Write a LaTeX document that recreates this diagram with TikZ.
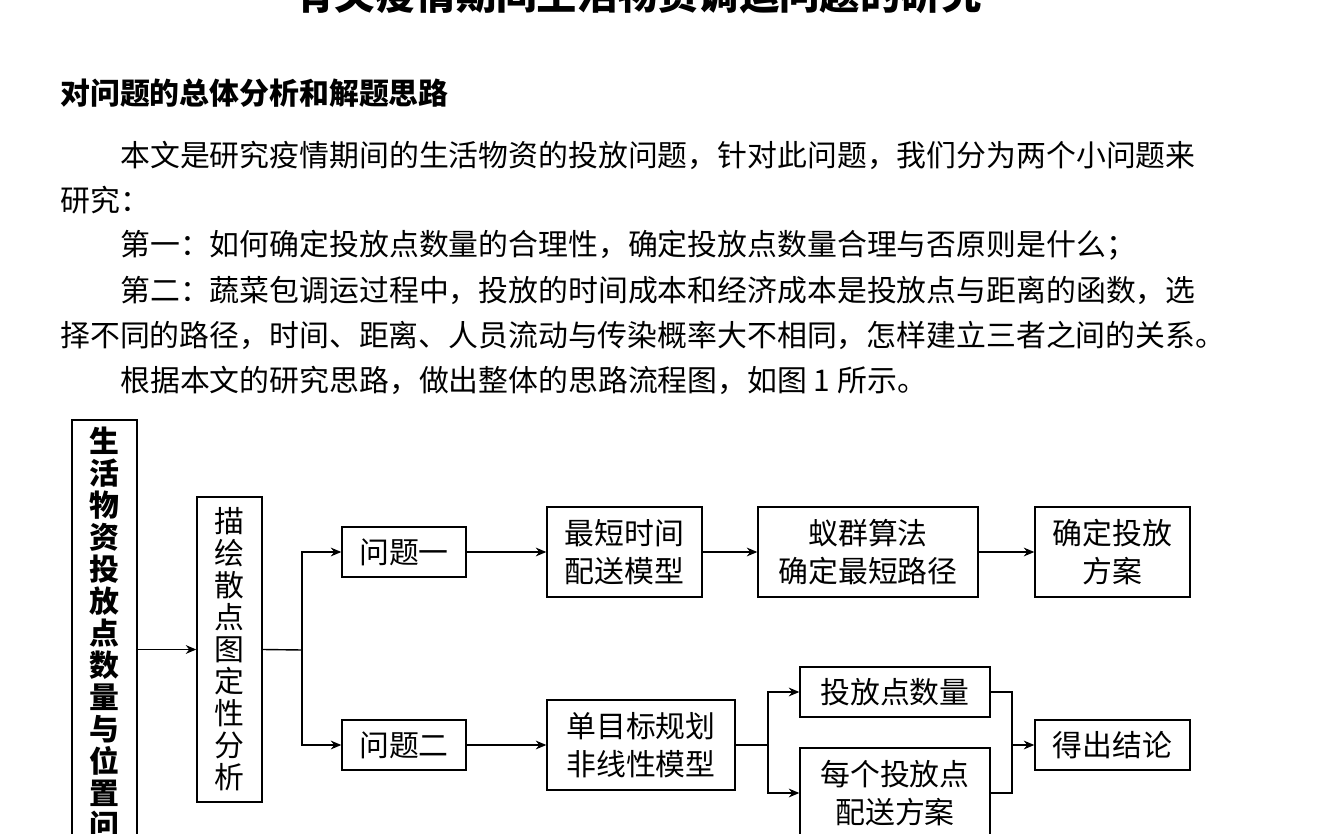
\documentclass[tikz,border=0pt]{standalone}
\usepackage{fontspec}
\setmainfont{Noto Sans CJK SC}
\usetikzlibrary{arrows.meta, positioning}
\tikzset{
	box/.style={draw, line width=0.8pt, inner sep=0pt, align=center, font=\fontsize{17}{21.5}\selectfont},
	arr/.style={line width=0.8pt, -{Stealth[length=6pt, width=5pt]}},
	con/.style={line width=0.8pt},
	txt/.style={anchor=west, inner sep=0pt, font=\fontsize{17}{20}\selectfont},
}
\begin{document}
\begin{tikzpicture}[x=0.02cm, y=-0.02cm]
	\useasboundingbox (0,0) rectangle (1335,834);
	\clip (0,0) rectangle (1335,834);

	% 标题与正文
	\node[inner sep=0pt, font=\fontsize{23}{26}\selectfont\bfseries] (title) at (638,-6) {有关疫情期间生活物资调运问题的研究};
	\node[txt, font=\fontsize{17}{20}\selectfont\bfseries] (head) at (60,93) {对问题的总体分析和解题思路};
	\node[txt] (l1) at (120,155) {本文是研究疫情期间的生活物资的投放问题，针对此问题，我们分为两个小问题来};
	\node[txt] (l2) at (60,200) {研究：};
	\node[txt] (l3) at (120,245) {第一：如何确定投放点数量的合理性，确定投放点数量合理与否原则是什么；};
	\node[txt] (l4) at (120,290) {第二：蔬菜包调运过程中，投放的时间成本和经济成本是投放点与距离的函数，选};
	\node[txt] (l5) at (60,335) {择不同的路径，时间、距离、人员流动与传染概率大不相同，怎样建立三者之间的关系。};
	\node[txt] (l6) at (120,380) {根据本文的研究思路，做出整体的思路流程图，如图 1 所示。};

	% 流程图
	\node[box, minimum width=1.3cm, minimum height=11.6cm] (goal) at (104.5,710) {};
	\node[inner sep=0pt, align=center, anchor=north, font=\fontsize{17}{18.2}\selectfont\bfseries] (goaltxt) at (104.5,427) {生\\活\\物\\资\\投\\放\\点\\数\\量\\与\\位\\置\\问\\题};
	\node[box, minimum width=1.3cm, minimum height=6.1cm, font=\fontsize{17}{18.2}\selectfont] (desc) at (229.5,649.5) {描\\绘\\散\\点\\图\\定\\性\\分\\析};
	\node[box, minimum width=2.48cm, minimum height=1cm] (q1) at (404,552) {问题一};
	\node[box, minimum width=2.48cm, minimum height=1cm] (q2) at (404,745) {问题二};
	\node[box, minimum width=3.1cm, minimum height=1.8cm] (tmod) at (624.5,552) {最短时间\\配送模型};
	\node[box, minimum width=4.4cm, minimum height=1.8cm] (ant) at (868,552) {蚁群算法\\确定最短路径};
	\node[box, minimum width=3.1cm, minimum height=1.8cm] (plan) at (1112.5,552) {确定投放\\方案};
	\node[box, minimum width=3.76cm, minimum height=1.8cm] (nlp) at (641,745) {单目标规划\\非线性模型};
	\node[box, minimum width=3.8cm, minimum height=1cm] (num) at (895,692) {投放点数量};
	\node[box, minimum width=3.8cm, minimum height=1.8cm] (each) at (895,793) {每个投放点\\配送方案};
	\node[box, minimum width=3.1cm, minimum height=1cm] (res) at (1112.5,745) {得出结论};

	\coordinate (fork) at (302,650);
	\coordinate (split) at (768,745);
	\coordinate (join) at (1012,745);

	\draw[arr] (goal.east |- desc.west) -- (desc.west);
	\draw[con] (desc.east) -- (fork);
	\draw[arr] (fork) |- (q1.west);
	\draw[arr] (fork) |- (q2.west);
	\draw[arr] (q1) -- (tmod);
	\draw[arr] (tmod) -- (ant);
	\draw[arr] (ant) -- (plan);
	\draw[arr] (q2) -- (nlp);
	\draw[con] (nlp.east) -- (split);
	\draw[arr] (split) |- (num.west);
	\draw[arr] (split) |- (each.west);
	\draw[con] (num.east) -| (join);
	\draw[con] (each.east) -| (join);
	\draw[arr] (join) -- (res.west);

\end{tikzpicture}
\end{document}
